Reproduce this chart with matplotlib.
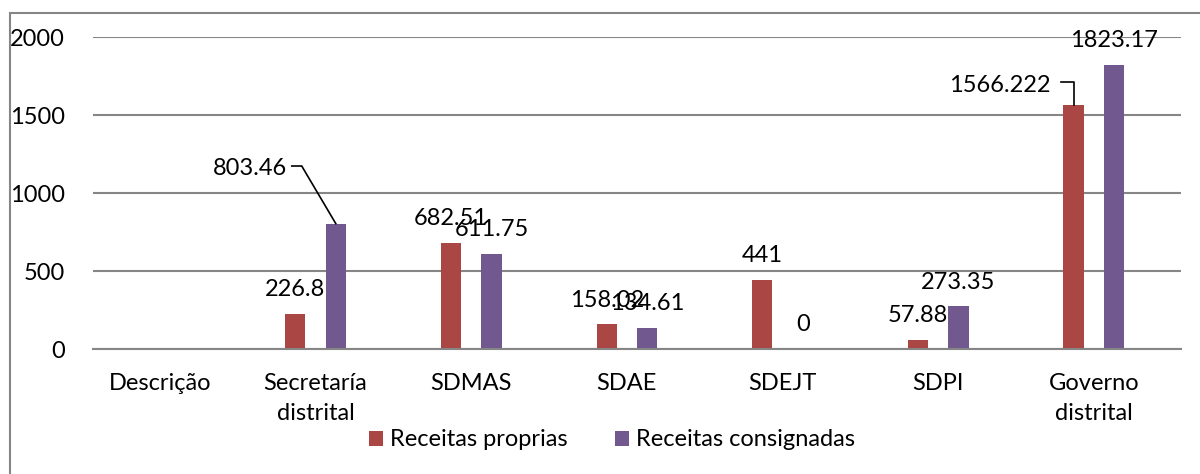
import numpy as np
import matplotlib.pyplot as plt
from matplotlib.patches import Rectangle

categories = ['Descrição', 'Secretaría\ndistrital', 'SDMAS', 'SDAE', 'SDEJT', 'SDPI', 'Governo\ndistrital']
proprias = [np.nan, 226.8, 682.51, 158.02, 441, 57.88, 1566.222]
consignadas = [np.nan, 803.46, 611.75, 134.61, 0, 273.35, 1823.17]
proprias_txt = ['', '226.8', '682.51', '158.02', '441', '57.88', '1566.222']
consignadas_txt = ['', '803.46', '611.75', '134.61', '0', '273.35', '1823.17']

plt.rcParams['font.family'] = ['Lato', 'DejaVu Sans']
fs = 17
grey = '#868686'
red = '#AA4643'
purple = '#71588F'

fig = plt.figure(figsize=(12, 4.74), dpi=100)
ax = fig.add_axes([93/1200, 1-349/474, (1181-93)/1200, (349-37)/474])

x = np.arange(len(categories))
w = 0.13
ax.bar(x - w, proprias, w, color=red, label='Receitas proprias', zorder=3)
ax.bar(x + w, consignadas, w, color=purple, label='Receitas consignadas', zorder=3)

ax.set_ylim(0, 2000)
ax.set_xlim(-0.43, 6.56)
ax.set_yticks([0, 500, 1000, 1500, 2000])
ax.set_xticks(x)
ax.set_xticklabels(categories, fontsize=fs, linespacing=1.55)
ax.tick_params(axis='y', length=0, pad=20, labelsize=fs)
ax.tick_params(axis='x', length=0, pad=17)
ax.yaxis.grid(True, color=grey, lw=1.5, zorder=0)
for s in ['top', 'right', 'left']:
    ax.spines[s].set_visible(False)
ax.spines['bottom'].set_color(grey)
ax.spines['bottom'].set_linewidth(1.5)
ax.spines['bottom'].set_zorder(4)

# data labels
for i in range(len(categories)):
    for xs, v, t in [(x[i] - w, proprias[i], proprias_txt[i]), (x[i] + w, consignadas[i], consignadas_txt[i])]:
        if t == '' or t in ('803.46', '1566.222'):
            continue
        ax.annotate(t, (xs, v), xytext=(0, 17.5), textcoords='offset points',
                    ha='center', va='center', fontsize=fs, zorder=5)

# moved labels with leader lines
ax.text(0.815, 1160, '803.46', ha='right', va='center', fontsize=fs)
ax.plot([0.847, 0.911, 1 + w], [1173, 1173, consignadas[1]], color='k', lw=1.2, zorder=5)
ax.text(5.722, 1692, '1566.222', ha='right', va='center', fontsize=fs)
ax.plot([5.787, 6 - w, 6 - w], [1712, 1712, proprias[6]], color='k', lw=1.2, zorder=5)

fig.legend(loc='center', bbox_to_anchor=(612/1200, 1-440/474), ncol=2, frameon=False,
           fontsize=fs, handlelength=0.6, handleheight=0.6, handletextpad=0.3, columnspacing=2.0)

fig.patches.append(Rectangle((10/1200, -0.05), 1.1, 1 - 13/474 + 0.05, transform=fig.transFigure,
                             fill=False, edgecolor=grey, lw=1.5))

fig.savefig('out.png')
